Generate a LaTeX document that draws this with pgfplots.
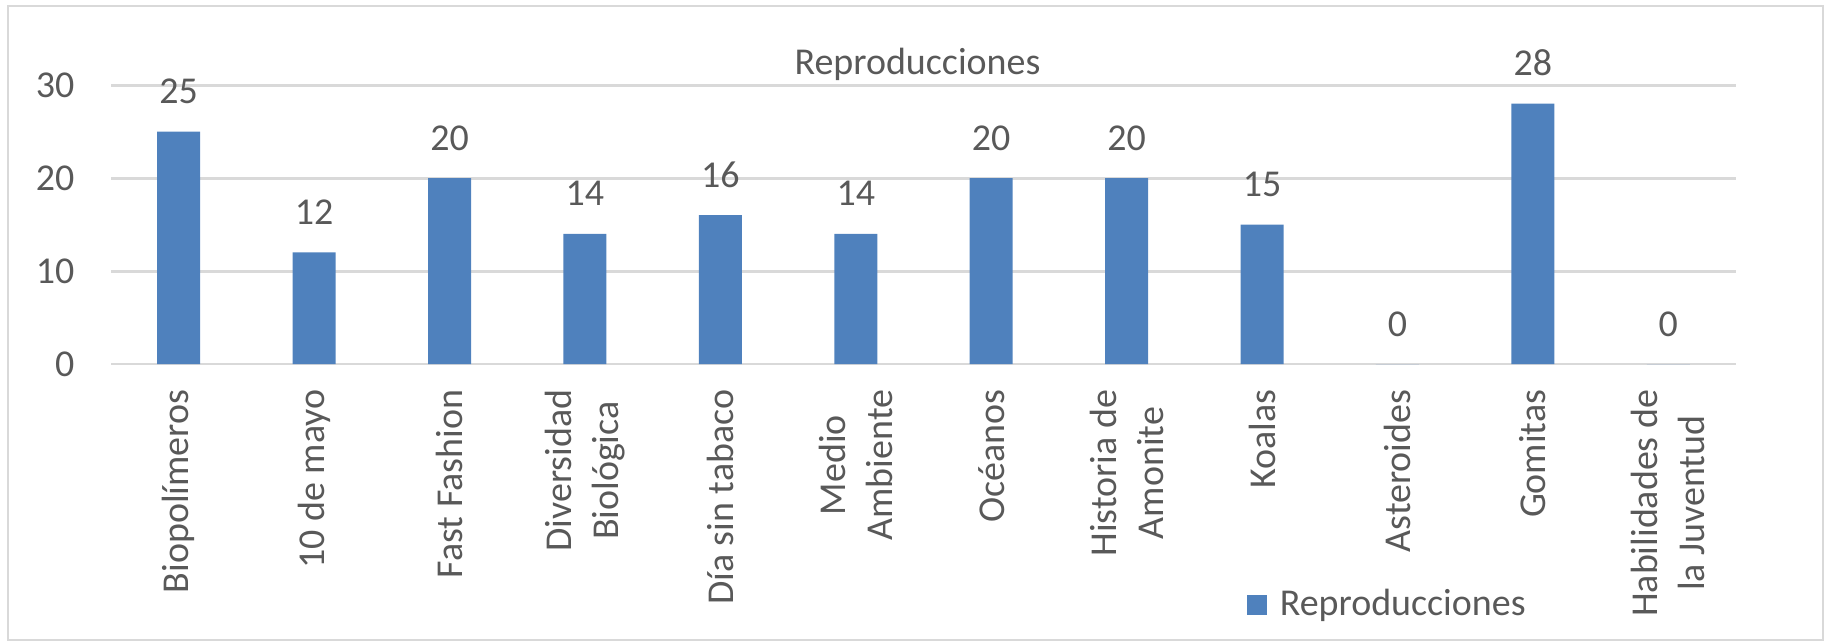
\documentclass[border=0pt]{standalone}
\usepackage{pgfplots}
\pgfplotsset{compat=1.18}
\usepackage{fontspec}
\setmainfont{Carlito}
\definecolor{barblue}{HTML}{4F81BD}
\definecolor{txtgray}{HTML}{595959}
\definecolor{gridgray}{HTML}{D9D9D9}
\newcommand{\lbl}{\fontsize{10.8}{13.4}\selectfont}
\begin{document}
\begin{tikzpicture}
\useasboundingbox (0,0) rectangle (182.5mm,-64.4mm);
\draw[gridgray, line width=0.6pt] (0.8mm,-0.6mm) rectangle (182.3mm,-64.0mm);
\begin{axis}[
  at={(11.1mm,-36.4mm)}, anchor=south west,
  scale only axis, width=162.5mm, height=27.9mm,
  /pgf/number format/assume math mode=true,
  ybar, bar width=4.3mm,
  xmin=-0.5, xmax=11.5, ymin=0, ymax=30,
  ytick={0,10,20,30},
  xtick={0,...,11},
  xticklabels={Biopolímeros, 10 de mayo, Fast Fashion, Diversidad\\Biológica, Día sin tabaco, Medio\\Ambiente, Océanos, Historia de\\Amonite, Koalas, Asteroides, Gomitas, Habilidades de\\la Juventud},
  axis line style={draw=none},
  major tick length=0pt,
  ymajorgrids, grid style={gridgray, line width=0.85pt},
  yticklabel style={font=\lbl, text=txtgray, anchor=east, inner sep=0pt, xshift=-3.6mm},
  xticklabel style={font=\lbl, text=txtgray, yshift=-2.5mm, rotate=90, anchor=east, align=center, inner sep=0pt},
  title={Reproducciones},
  every axis title shift=0pt,
  title style={font=\lbl, text=txtgray, at={(0.5,1)}, anchor=base, yshift=1.1mm, xshift=-0.6mm, inner sep=0pt},
  nodes near coords,
  every node near coord/.append style={font=\lbl, text=txtgray, anchor=base, yshift=2.8mm, inner sep=0pt},
  legend style={at={(0.6985,-0.864)}, anchor=west, draw=none, fill=none, inner sep=0pt, font=\lbl, text=txtgray,
    /tikz/every odd column/.append style={column sep=0.6mm}},
  legend image code/.code={\fill[barblue] (0mm,-1mm) rectangle (2mm,1mm);},
]
\addplot[fill=barblue, draw=none] coordinates {(0,25) (1,12) (2,20) (3,14) (4,16) (5,14) (6,20) (7,20) (8,15) (9,0) (10,28) (11,0)};
\addlegendentry{Reproducciones}
\end{axis}
\end{tikzpicture}
\end{document}
